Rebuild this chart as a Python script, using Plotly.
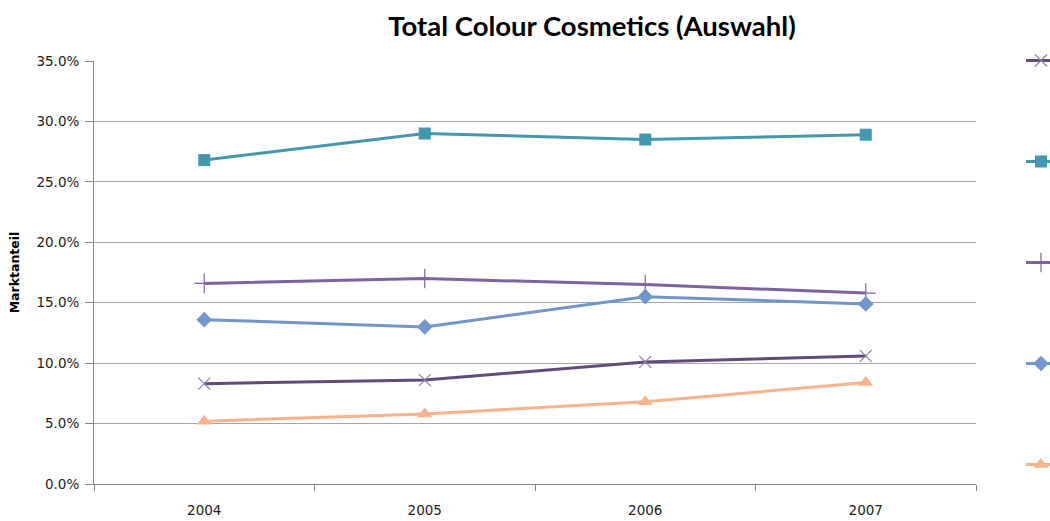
import plotly.graph_objects as go

years = ["2004", "2005", "2006", "2007"]
series_names = ["", "", "", "", ""]  # legend labels are cut off in the reference
s_darkpurple = [8.3, 8.6, 10.1, 10.6]
s_teal = [26.8, 29.0, 28.5, 28.9]
s_purple = [16.6, 17.0, 16.5, 15.8]
s_blue = [13.6, 13.0, 15.5, 14.9]
s_orange = [5.2, 5.8, 6.8, 8.4]

values = [s_darkpurple, s_teal, s_purple, s_blue, s_orange]
line_colors = ["#5F4B7E", "#4198AF", "#7F62A0", "#7096CC", "#F8B38C"]
marker_symbols = ["x-thin", "square", "cross-thin", "diamond", "triangle-up"]
marker_sizes = [12, 12, 14, 12, 13]
marker_line_colors = ["#8E80A8", "#4198AF", "#7F62A0", "#7096CC", "#F8B38C"]
marker_line_widths = [1.2, 0, 1.2, 0, 0]

W, H = 1050, 521
fig = go.Figure()
for i in range(5):
    fig.add_trace(go.Scatter(
        x=years, y=[v / 100 for v in values[i]], name=series_names[i],
        mode="lines+markers", legendgroup=str(i),
        line=dict(color=line_colors[i], width=3),
        marker=dict(symbol=marker_symbols[i], size=marker_sizes[i], color=line_colors[i],
                    line=dict(color=marker_line_colors[i], width=marker_line_widths[i])),
    ))

tick_font = dict(family="DejaVu Sans", size=13.5, color="#222222")
fig.update_layout(
    width=W, height=H,
    paper_bgcolor="white", plot_bgcolor="white",
    margin=dict(l=94, r=74, t=61, b=37, autoexpand=False),
    font=dict(family="DejaVu Sans", size=12, color="#222222"),
    title=dict(text="<b>Total Colour Cosmetics (Auswahl)</b>", x=592 / W, xanchor="center",
               y=1 - 26 / H, yanchor="middle", font=dict(size=27.5, color="black", family="Lato, Arial")),
    showlegend=True,
    legend=dict(x=1.051, xanchor="left", y=1.0355, yanchor="top", tracegroupgap=82,
                traceorder="grouped", font=dict(size=11), bgcolor="rgba(0,0,0,0)",
                maxheight=500),
    xaxis=dict(type="category", range=[-0.5, 3.5], tickson="boundaries", ticks="outside",
               ticklen=6, tickcolor="#868686", showline=True, linecolor="#868686", linewidth=1,
               showgrid=False, tickfont=tick_font, ticklabelstandoff=14),
    yaxis=dict(range=[0, 0.35], dtick=0.05, tickformat=".1%", ticks="outside", ticklen=8,
               tickcolor="#868686", showline=True, linecolor="#868686", linewidth=1,
               showgrid=True, gridcolor="#A6A6A6", gridwidth=1, zeroline=False,
               tickfont=tick_font, ticklabelstandoff=3,
               title=dict(text="<b>Marktanteil</b>", font=dict(family="DejaVu Sans", size=12.5, color="black"),
                          standoff=14)),
)

fig.write_html("out.html", config={"displayModeBar": False},
               post_script="document.body.style.margin='0';document.body.style.overflow='hidden';")
